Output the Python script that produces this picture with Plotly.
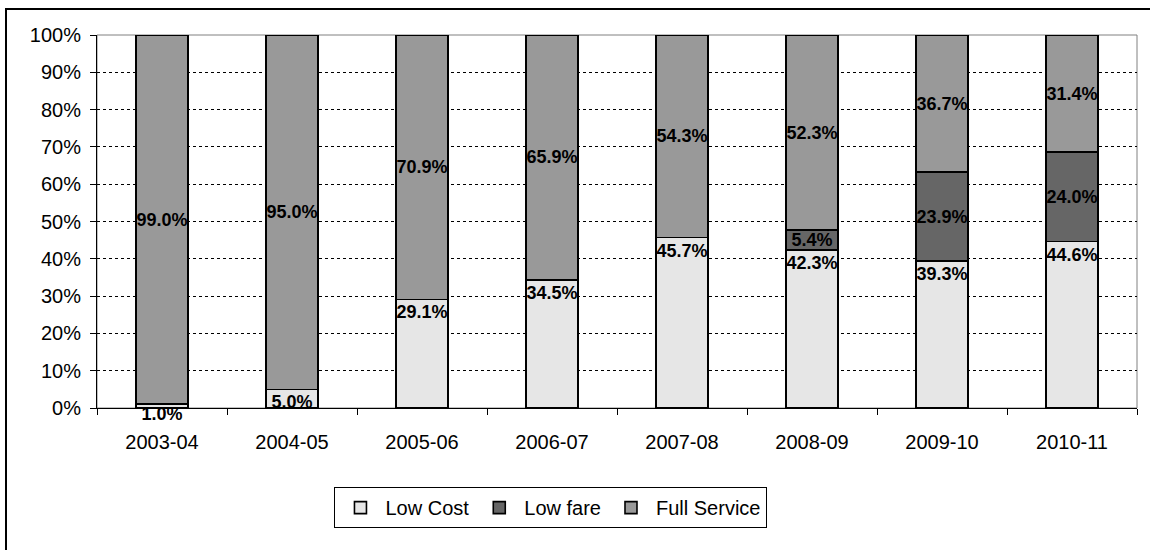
import plotly.graph_objects as go

years = ["2003-04", "2004-05", "2005-06", "2006-07", "2007-08", "2008-09", "2009-10", "2010-11"]
low_cost = [1.0, 5.0, 29.1, 34.5, 45.7, 42.3, 39.3, 44.6]
low_fare = [0.0, 0.0, 0.0, 0.0, 0.0, 5.4, 23.9, 24.0]
full_service = [99.0, 95.0, 70.9, 65.9, 54.3, 52.3, 36.7, 31.4]
y_ticks = [0, 10, 20, 30, 40, 50, 60, 70, 80, 90, 100]
y_tick_labels = [f"{v}%" for v in y_ticks]

FONT = "Liberation Sans, Arial, sans-serif"


def labels(vals):
    return [f"{v:.1f}%" if v > 0 else "" for v in vals]


fig = go.Figure()
series = [
    ("Low Cost", low_cost, "#E6E6E6", "end"),
    ("Low fare", low_fare, "#666666", "middle"),
    ("Full Service", full_service, "#999999", "middle"),
]
for name, vals, color, anchor in series:
    fig.add_trace(go.Bar(
        name=name, x=years, y=vals, width=0.4,
        marker=dict(color=color, line=dict(color="#000000", width=1.6)),
        text=labels(vals), textposition="inside", insidetextanchor=anchor,
        textangle=0, cliponaxis=False,
        textfont=dict(family=FONT, size=18, color="#000000", weight="bold"),
    ))

# plot-area frame (grey) and outer chart border
fig.add_shape(type="rect", xref="paper", yref="paper", x0=0, x1=1, y0=0, y1=1,
              line=dict(color="#808080", width=1), layer="below")
fig.add_shape(type="rect", xref="paper", yref="paper", x0=-0.0875, x1=1.3, y0=-1, y1=1.0697,
              line=dict(color="#000000", width=2), layer="below")

fig.update_layout(
    width=1150, height=550,
    barmode="stack", barnorm="percent",
    plot_bgcolor="#FFFFFF", paper_bgcolor="#FFFFFF",
    margin=dict(l=97, r=13, t=35, b=142),
    font=dict(family=FONT, size=20, color="#000000"),
    uniformtext=dict(minsize=18, mode="show"),
    showlegend=True,
    legend=dict(
        orientation="h", x=0.4365, xanchor="center", y=-0.212, yanchor="top",
        bordercolor="#000000", borderwidth=1, bgcolor="#FFFFFF",
        font=dict(family=FONT, size=20, color="#000000"),
        traceorder="normal", itemwidth=40,
    ),
    xaxis=dict(
        type="category", tickson="boundaries", ticks="outside", ticklen=6,
        tickcolor="#000000", showline=True, linecolor="#000000", linewidth=1,
        showgrid=False, tickfont=dict(family=FONT, size=20, color="#000000"),
        ticklabelstandoff=16,
    ),
    yaxis=dict(
        range=[0, 100], tickvals=y_ticks, ticktext=y_tick_labels, ticks="outside", ticklen=6,
        tickcolor="#000000", showline=True, linecolor="#000000", linewidth=1,
        showgrid=True, gridcolor="#000000", gridwidth=1, griddash="dot",
        zeroline=False, tickfont=dict(family=FONT, size=20, color="#000000"),
        ticklabelstandoff=5,
    ),
)

fig.write_html("out.html")
